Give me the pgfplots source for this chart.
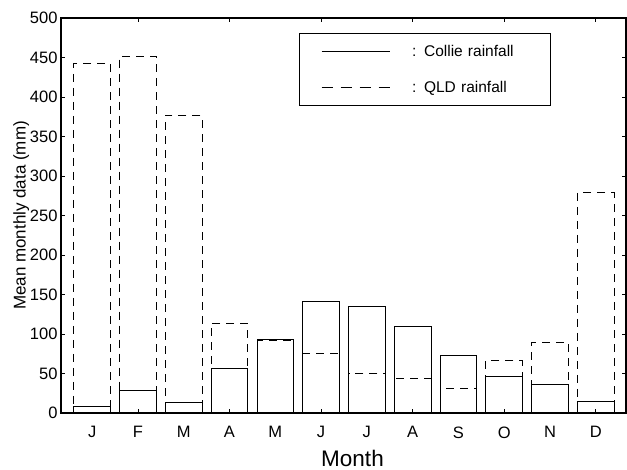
\documentclass[border=0pt]{standalone}
\usepackage{fontspec}
\setmainfont{Liberation Sans}
\usepackage{pgfplots}
\pgfplotsset{compat=1.18}
\pgfplotstableread{
m collie qld
1 8.5 443
2 28 452
3 13.5 377
4 57 113.5
5 93.7 91.6
6 141.8 75.8
7 135.4 50
8 110 43.5
9 73.4 31
10 46 66
11 36.7 89.5
12 15 279
}\rain
\begin{document}
\begin{tikzpicture}
\begin{axis}[
  scale only axis, width=565pt, height=395pt,
  xmin=0.32, xmax=12.66, ymin=0, ymax=500,
  ytick={0,50,...,500},
  xtick={2,4,...,12}, xticklabels={},
  extra x ticks={1,2,...,12},
  extra x tick labels={J,F,M,A,M,J,J,A,S,O,N,D},
  extra x tick style={major tick length=0pt, tick style={draw=none}},
  tick align=inside, major tick length=4.3pt,
  tick style={black, line width=0.7pt},
  axis line style={black, line width=1.1pt},
  /pgf/number format/assume math mode=true,
  tick label style={font=\fontsize{16.5}{19}\selectfont},
  xticklabel style={yshift=-10pt},
  xlabel={Month}, ylabel={Mean monthly data (mm)},
  xlabel style={font=\fontsize{22.5}{26}\selectfont, yshift=-5pt, xshift=9pt},
  ylabel style={font=\fontsize{17}{20}\selectfont, yshift=-6pt},
  legend style={at={(rel axis cs:0.421,0.962)}, anchor=north west,
    draw=black, line width=0.7pt, inner xsep=22pt, inner ysep=10pt,
    font=\fontsize{15.5}{18}\selectfont, row sep=19pt,
    nodes={text width=114pt, align=left}},
  legend image code/.code={\draw[#1, line width=0.8pt] (0pt,0pt) -- (68pt,0pt); \path (88pt,0pt);},
]
\addplot[ybar, bar width=0.8, bar shift=0pt, draw=black, fill=none, line width=0.8pt] table[x=m, y=collie] {\rain};
\addlegendentry{: Collie rainfall}
\addplot[ybar, bar width=0.8, bar shift=0pt, draw=black, fill=none, line width=0.8pt, dash pattern=on 8pt off 6pt,
  legend image code/.code={\draw[black, line width=0.8pt, dash pattern=on 11pt off 8pt] (0pt,0pt) -- (68pt,0pt); \path (88pt,0pt);}] table[x=m, y=qld] {\rain};
\addlegendentry{: QLD rainfall}
\end{axis}
\path[use as bounding box] (-61pt,-54pt) rectangle (566pt,413pt);
\end{tikzpicture}
\end{document}
